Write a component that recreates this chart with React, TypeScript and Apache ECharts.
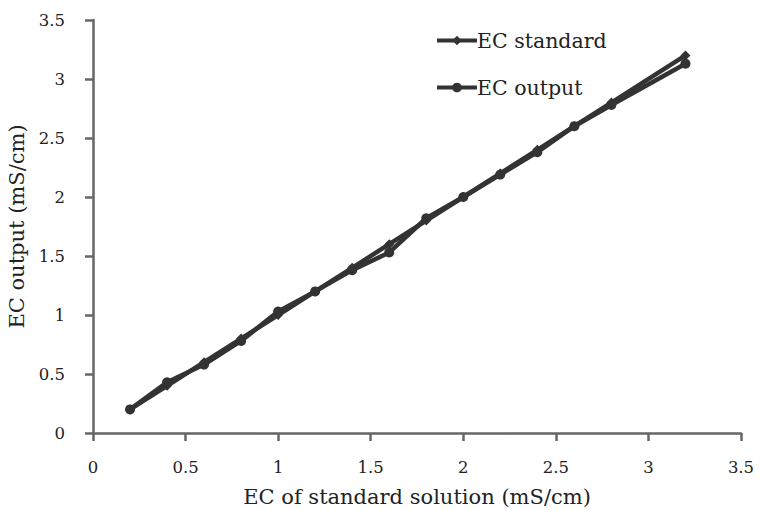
import React, { useEffect, useRef } from "react";
import * as echarts from "echarts";

const standardX = [0.2, 0.4, 0.6, 0.8, 1.0, 1.2, 1.4, 1.6, 1.8, 2.0, 2.2, 2.4, 2.6, 2.8, 3.2];
const standardY = [0.2, 0.4, 0.6, 0.8, 1.0, 1.2, 1.4, 1.6, 1.8, 2.0, 2.2, 2.4, 2.6, 2.8, 3.2];
const outputY = [0.2, 0.43, 0.58, 0.78, 1.03, 1.2, 1.38, 1.53, 1.82, 2.0, 2.19, 2.38, 2.6, 2.78, 3.13];

const FONT = "DejaVu Serif";

export default function App() {
  const ref = useRef<HTMLDivElement>(null);
  useEffect(() => {
    if (!ref.current) return;
    const chart = echarts.init(ref.current, null, { renderer: "svg" });
    const axisCommon = {
      type: "value" as const,
      min: 0,
      max: 3.5,
      interval: 0.5,
      splitLine: { show: false },
      axisLine: { show: true, lineStyle: { color: "#666", width: 2.5 } },
      axisTick: { show: true, inside: false, length: 8, lineStyle: { color: "#666", width: 2.5 } },
      axisLabel: { color: "#222", fontFamily: FONT, fontSize: 16.5 },
      nameLocation: "middle" as const,
      nameTextStyle: { color: "#222", fontFamily: FONT, fontSize: 21 },
    };
    chart.setOption({
      animation: false,
      backgroundColor: "#fff",
      grid: { left: 93, right: 20, top: 20, bottom: 77, containLabel: false, outerBoundsMode: "none" },
      legend: {
        orient: "vertical",
        left: 430,
        top: 25,
        itemGap: 26,
        itemWidth: 40,
        itemHeight: 12,
        lineStyle: { width: 4 },
        textStyle: { color: "#222", fontFamily: FONT, fontSize: 20.5, padding: [0, 0, 0, -5] },
        data: ["EC standard", "EC output"],
      },
      xAxis: {
        ...axisCommon,
        name: "EC of standard solution (mS/cm)",
        nameGap: 53,
        axisLabel: { ...axisCommon.axisLabel, margin: 26 },
      },
      yAxis: {
        ...axisCommon,
        name: "EC output (mS/cm)",
        nameGap: 64,
        axisLabel: { ...axisCommon.axisLabel, margin: 28 },
      },
      series: [
        {
          name: "EC standard",
          type: "line",
          data: standardX.map((x, i) => [x, standardY[i]]),
          symbol: "diamond",
          symbolSize: 10,
          lineStyle: { color: "#333", width: 4.5 },
          itemStyle: { color: "#333" },
        },
        {
          name: "EC output",
          type: "line",
          data: standardX.map((x, i) => [x, outputY[i]]),
          symbol: "circle",
          symbolSize: 10,
          lineStyle: { color: "#333", width: 4.5 },
          itemStyle: { color: "#333" },
        },
      ],
    });
    return () => chart.dispose();
  }, []);
  return <div ref={ref} style={{ width: 761, height: 510, position: "absolute", left: 0, top: 0 }} />;
}
